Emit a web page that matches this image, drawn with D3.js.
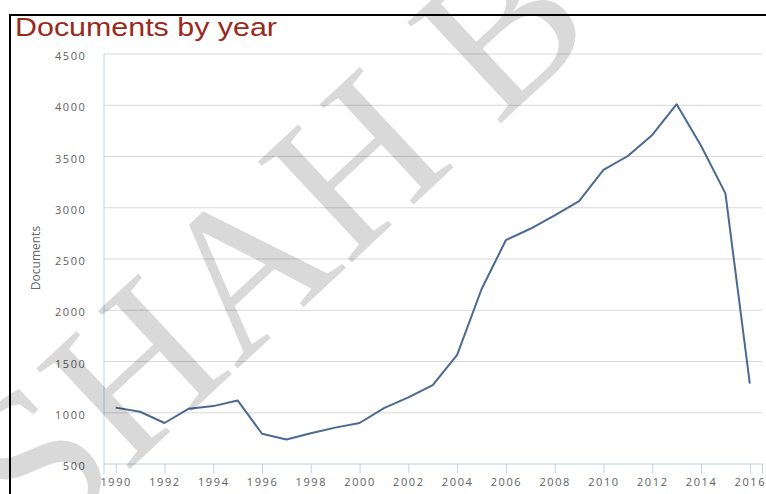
<!DOCTYPE html>
<html lang="en">
<head>
    <meta charset="UTF-8">
    <title>Documents by year</title>
    <script src="https://d3js.org/d3.v7.min.js"></script>
    <style>
        body { margin: 0; background: #fff; }
        .grid line { stroke: #d8d8d8; stroke-width: 1; }
        .grid path { display: none; }
        .axis text { font-family: "Open Sans", sans-serif; font-size: 11px; fill: #606060; letter-spacing: 1.6px; }
    </style>
</head>
<body>
<svg height="494" width="766"></svg>

<script>
    const years = [1990, 1991, 1992, 1993, 1994, 1995, 1996, 1997, 1998, 1999, 2000, 2001, 2002,
                   2003, 2004, 2005, 2006, 2007, 2008, 2009, 2010, 2011, 2012, 2013, 2014, 2015, 2016];
    const documents = [1045, 1005, 895, 1035, 1060, 1115, 790, 735, 795, 850, 895, 1040, 1145,
                       1265, 1560, 2200, 2680, 2790, 2920, 3060, 3365, 3500, 3705, 4005, 3600, 3135, 1280];
    const yTicks = [500, 1000, 1500, 2000, 2500, 3000, 3500, 4000, 4500];
    const xTicks = d3.range(1990, 2017, 2);

    const svg = d3.select("svg");
    const plotLeft = 103.5, plotRight = 762, plotTop = 53.5, plotBottom = 463.5;

    const x = d3.scaleLinear().domain([1989.5, 2016.5]).range([plotLeft, plotRight]);
    const y = d3.scaleLinear().domain([500, 4500]).range([plotBottom, plotTop]);

    // frame
    svg.append("path")
        .attr("d", "M10,494V15H766")
        .style("fill", "none")
        .style("stroke", "#000")
        .style("stroke-width", 2);

    svg.append("text")
        .attr("x", 15).attr("y", 36)
        .attr("textLength", 262)
        .attr("lengthAdjust", "spacingAndGlyphs")
        .style("font-family", "'Liberation Sans', Arial, sans-serif")
        .style("font-size", "25px")
        .style("fill", "#992a1c")
        .text("Documents by year");

    // gridlines
    svg.append("g")
        .attr("class", "grid")
        .attr("transform", `translate(${plotLeft},0)`)
        .call(d3.axisLeft(y).tickValues(yTicks.slice(1)).tickSize(plotLeft - plotRight).tickFormat(""));

    // y axis labels
    const ya = svg.append("g")
        .attr("class", "axis")
        .attr("transform", `translate(${plotLeft},0)`)
        .call(d3.axisLeft(y).tickValues(yTicks).tickFormat(d3.format("d")).tickSize(0).tickPadding(17));
    ya.select(".domain").style("stroke", "#c0d0e0");
    ya.selectAll("text").attr("dy", "0.55em");

    // x axis
    const xa = svg.append("g")
        .attr("class", "axis")
        .attr("transform", `translate(0,${plotBottom})`)
        .call(d3.axisBottom(x).tickValues(xTicks).tickFormat(d3.format("d")).tickSizeOuter(0).tickSize(10).tickPadding(5));
    xa.select(".domain").style("stroke", "#c0d0e0");
    xa.selectAll(".tick line").style("stroke", "#c0d0e0");

    svg.append("text")
        .attr("transform", "translate(40,258) rotate(-90)")
        .attr("text-anchor", "middle")
        .style("font-family", "'Open Sans', sans-serif")
        .style("font-size", "12px")
        .style("fill", "#666")
        .text("Documents");

    const line = d3.line()
        .x((d, i) => x(years[i]))
        .y(d => y(d));

    svg.append("path")
        .datum(documents)
        .attr("d", line)
        .style("fill", "none")
        .style("stroke", "#4a6a92")
        .style("stroke-width", 2)
        .style("stroke-linejoin", "round");

    // watermark
    svg.append("text")
        .attr("transform", "translate(40,553) rotate(-43)")
        .style("font-family", "'Liberation Serif', serif")
        .style("font-size", "210px")
        .style("fill", "#000")
        .style("fill-opacity", 0.15)
        .text("SHAH B");
</script>

</body>
</html>
